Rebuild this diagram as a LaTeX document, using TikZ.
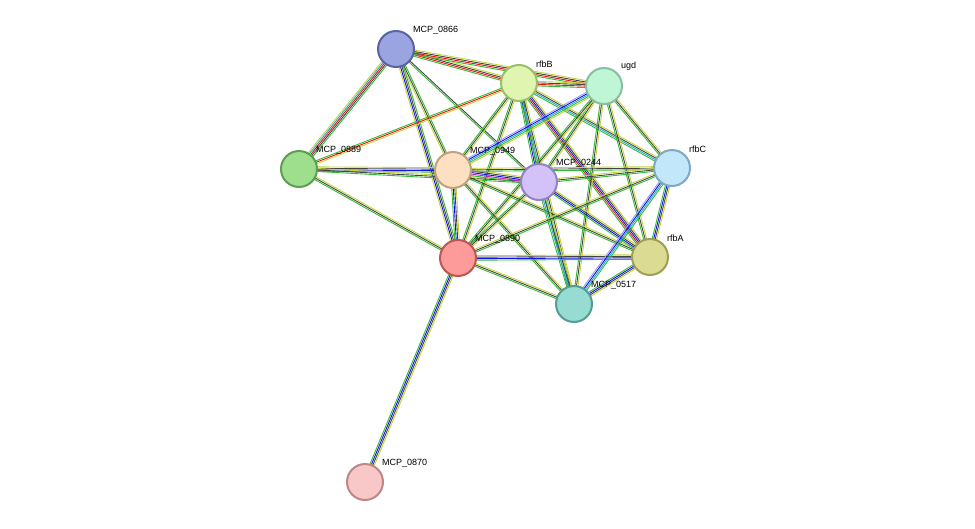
\documentclass[tikz,border=0pt]{standalone}
\usepackage{fontspec}
\setmainfont{Liberation Sans}
\usetikzlibrary{calc}
\pgfdeclarelayer{bg}\pgfsetlayers{bg,main}
\definecolor{eg}{HTML}{33BB33}\definecolor{er}{HTML}{EE1111}\definecolor{eb}{HTML}{1111EE}
\definecolor{ek}{HTML}{444444}\definecolor{ey}{HTML}{C4D43A}\definecolor{ec}{HTML}{22AACC}
\definecolor{em}{HTML}{CC22CC}\definecolor{el}{HTML}{9999FF}
\newcommand\edg[4]{\foreach \c [count=\i] in {#4}{\pgfmathsetmacro\o{(\i-(#3+1)/2)*1.5}
 \draw[\c,line width=0.9pt] ($(#1)!\o pt!90:(#2)$) -- ($(#2)!\o pt!-90:(#1)$);}}
\tikzset{prot/.style={circle,minimum size=36pt,line width=2pt,inner sep=0pt},
lab/.style={font=\fontsize{9}{10}\selectfont,anchor=south west,inner sep=1pt}}
\newcommand\prot[6]{\definecolor{f#1}{HTML}{#5}\definecolor{d#1}{HTML}{#6}
\node[prot,fill=f#1,draw=d#1] (#1) at (#2,#3) {};
\node[lab] (l#1) at ($(#1)+(16,-14)$) {#4};}
\begin{document}
\begin{tikzpicture}[x=1pt,y=-1pt]
\useasboundingbox (0,0) rectangle (975,528);
\prot{a}{396}{49}{MCP\_0866}{9AA4E0}{5B63A3}
\prot{b}{519}{83}{rfbB}{DFF5B0}{9CBF6A}
\prot{u}{604}{86}{ugd}{BFF7D6}{86C0A0}
\prot{g}{299}{169}{MCP\_0889}{9EDF8E}{5E9E50}
\prot{e}{453}{170}{MCP\_0949}{FDE0C2}{C0A07E}
\prot{m}{539}{182}{MCP\_0244}{D3C2FA}{9480C9}
\prot{c}{672}{168}{rfbC}{C2E6FA}{7FA8C4}
\prot{r}{458}{258}{MCP\_0890}{FD9A9A}{C05555}
\prot{y}{650}{257}{rfbA}{DCDB94}{9E9E55}
\prot{t}{574}{304}{MCP\_0517}{96DCD3}{559C94}
\prot{p}{365}{482}{MCP\_0870}{F8C8C8}{BD8787}
\begin{pgfonlayer}{bg}
\edg{a}{b}{4}{eg,er,ek,ey}
\edg{a}{u}{4}{eg,er,ek,ey}
\edg{a}{g}{5}{ey,ec,er,ek,eg}
\edg{a}{e}{3}{ey,ek,eg}
\edg{a}{r}{4}{ey,eb,ek,eg}
\edg{a}{m}{2}{eg,ek}
\edg{b}{u}{4}{eg,er,ek,ey}
\edg{b}{g}{3}{eg,er,ey}
\edg{b}{e}{3}{eg,ek,ey}
\edg{b}{m}{4}{eg,eb,ek,ey}
\edg{b}{r}{3}{eg,ek,ey}
\edg{b}{c}{4}{eg,ec,ek,ey}
\edg{b}{y}{5}{eg,er,eb,ek,ey}
\edg{b}{t}{4}{eg,ec,ek,ey}
\edg{u}{e}{5}{el,eb,ec,eg,ey}
\edg{u}{m}{3}{eg,ek,ey}
\edg{u}{r}{3}{eg,ek,ey}
\edg{u}{c}{3}{eg,ek,ey}
\edg{u}{y}{3}{eg,ek,ey}
\edg{u}{t}{3}{eg,ek,ey}
\edg{g}{e}{4}{eg,eb,ek,ey}
\edg{g}{m}{3}{eg,ek,ey}
\edg{g}{r}{3}{eg,ek,ey}
\edg{e}{m}{5}{eg,em,eb,ek,ey}
\edg{e}{r}{4}{eg,eb,ek,ey}
\edg{e}{c}{3}{eg,ek,ey}
\edg{e}{y}{3}{eg,ek,ey}
\edg{e}{t}{3}{eg,ek,ey}
\edg{m}{r}{3}{eg,ek,ey}
\edg{m}{c}{3}{eg,ek,ey}
\edg{m}{y}{4}{eg,eb,ek,ey}
\edg{m}{t}{4}{eg,ec,ek,ey}
\edg{r}{c}{3}{eg,ek,ey}
\edg{r}{y}{4}{eg,eb,ek,ey}
\edg{r}{t}{3}{eg,ek,ey}
\edg{c}{y}{4}{eg,eb,ek,ey}
\edg{c}{t}{4}{el,eb,ec,eg}
\edg{y}{t}{4}{eg,eb,ek,ey}
\edg{r}{p}{4}{eg,eb,ek,ey}
\end{pgfonlayer}
\end{tikzpicture}
\end{document}
